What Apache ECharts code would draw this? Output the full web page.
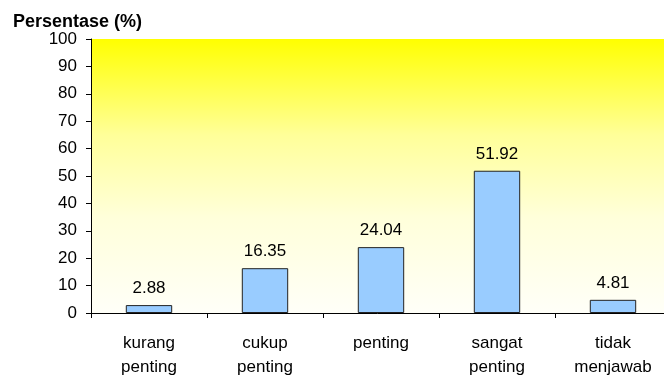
<!DOCTYPE html>
<html>
<head>
<meta charset="utf-8">
<script src="https://cdn.jsdelivr.net/npm/echarts@6/dist/echarts.min.js"></script>
<style>
  html, body { margin: 0; padding: 0; background: #fff; }
  #chart { width: 664px; height: 376px; }
</style>
</head>
<body>
<div id="chart"></div>
<script>
// Survey responses, percentage per answer
const categories = ['kurang\npenting', 'cukup\npenting', 'penting', 'sangat\npenting', 'tidak\nmenjawab'];
const values = [2.88, 16.35, 24.04, 51.92, 4.81];
const yTicks = [0, 10, 20, 30, 40, 50, 60, 70, 80, 90, 100];

const chart = echarts.init(document.getElementById('chart'));
const font = 'Liberation Sans, Arial, sans-serif';

chart.setOption({
  animation: false,
  title: {
    text: 'Persentase (%)',
    left: 8,
    top: 8,
    textStyle: { fontFamily: font, fontSize: 18, fontWeight: 'bold', color: '#000' }
  },
  grid: {
    left: 91,
    right: -7,
    top: 39,
    bottom: 63,
    outerBoundsMode: 'none',
    containLabel: false,
    show: true,
    borderWidth: 0,
    // plot area: yellow at the top fading to white
    backgroundColor: new echarts.graphic.LinearGradient(0, 0, 0, 1, [
      { offset: 0, color: '#FFFF00' },
      { offset: 0.35, color: '#FFFF99' },
      { offset: 0.65, color: '#FFFFDA' },
      { offset: 1, color: '#FFFFF8' }
    ])
  },
  xAxis: {
    type: 'category',
    data: categories,
    axisLine: { lineStyle: { color: '#000', width: 1 } },
    axisTick: { show: true, alignWithLabel: false, length: 5, lineStyle: { color: '#000' } },
    axisLabel: { fontFamily: font, fontSize: 17, color: '#000', lineHeight: 24, margin: 18 }
  },
  yAxis: {
    type: 'value',
    min: yTicks[0],
    max: yTicks[yTicks.length - 1],
    interval: 10,
    splitLine: { show: false },
    axisLine: { show: true, lineStyle: { color: '#000', width: 1 } },
    axisTick: { show: true, length: 5, lineStyle: { color: '#000' } },
    axisLabel: { fontFamily: font, fontSize: 17, color: '#000', margin: 14 }
  },
  series: [{
    type: 'bar',
    data: values,
    barWidth: '40%',
    itemStyle: { color: '#99CCFF', borderColor: '#222', borderWidth: 1 },
    label: {
      show: true,
      position: 'top',
      distance: 8,
      fontFamily: font,
      fontSize: 17,
      color: '#000',
      formatter: p => p.value.toFixed(2)
    }
  }]
});
</script>
</body>
</html>
